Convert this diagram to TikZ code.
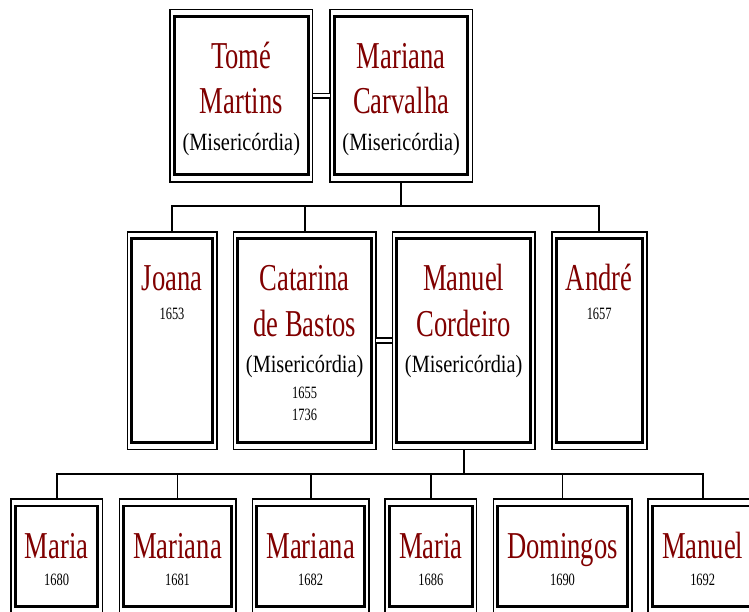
\documentclass[tikz,border=0pt]{standalone}
\usepackage{fontspec}
\setmainfont{Liberation Serif}
\newfontfamily\namefont[FakeStretch=0.70]{Liberation Serif}
\newfontfamily\notefont[FakeStretch=0.82]{Liberation Serif}
\newfontfamily\yearfont[FakeStretch=0.72]{Liberation Serif}
\definecolor{ink}{RGB}{0,0,0}
\definecolor{namered}{RGB}{128,0,0}
\tikzset{
  pers/.style={draw=ink,line width=1.6pt,inner sep=0pt,outer sep=0pt},
  inbox/.style={draw=ink,line width=2.8pt},
  nm/.style={anchor=base,inner sep=0pt,text=namered,font=\namefont\fontsize{38}{40}\selectfont},
  note/.style={anchor=base,inner sep=0pt,font=\notefont\fontsize{24.8}{26}\selectfont},
  yr/.style={anchor=base,inner sep=0pt,font=\yearfont\fontsize{17.3}{19}\selectfont},
  conn/.style={draw=ink,line width=1.8pt},
  wed/.style={draw=ink,double=white,double distance=3pt,line width=1.6pt},
}

\begin{document}
\begin{tikzpicture}[x=1pt,y=-1pt]
\path[use as bounding box,clip] (0,0) rectangle (749,611);
% parents
\node[pers,minimum width=142.7,minimum height=172.2] (tome) at (241.3,95.6) {};
\node[pers,minimum width=142.3,minimum height=172.2] (mariana) at (401.2,95.6) {};
% children
\node[pers,minimum width=89.4,minimum height=217.6] (joana) at (172,340.5) {};
\node[pers,minimum width=142.7,minimum height=217.6] (catarina) at (304.7,340.5) {};
\node[pers,minimum width=142.7,minimum height=217.6] (manuelc) at (463.7,340.5) {};
\node[pers,minimum width=95,minimum height=217.6] (andre) at (599.2,340.5) {};
% grandchildren
\node[pers,minimum width=91.3,minimum height=114.7] (maria1) at (56.7,556.3) {};
\node[pers,minimum width=116.4,minimum height=114.7] (mariana1) at (177.5,556.3) {};
\node[pers,minimum width=116.7,minimum height=114.7] (mariana2) at (310.7,556.3) {};
\node[pers,minimum width=91.7,minimum height=114.7] (maria2) at (430.8,556.3) {};
\node[pers,minimum width=138.4,minimum height=114.7] (domingos) at (562.5,556.3) {};
\node[pers,minimum width=110,minimum height=114.7] (manuel2) at (702.7,556.3) {};
% inner frames
\foreach \n in {tome,mariana,joana,catarina,manuelc,andre,maria1,mariana1,mariana2,maria2,domingos,manuel2}
  \draw[inbox] ([shift={(4.5,7)}]\n.north west) rectangle ([shift={(-4.5,-7)}]\n.south east);
% texts
\node[nm] (tomeA) at (241.3,68.3) {Tomé};
\node[nm] (tomeB) at (241.3,113.3) {Martins};
\node[note] (tomeC) at (241.3,150.7) {(Misericórdia)};
\node[nm] (marianaA) at (401.2,68.3) {Mariana};
\node[nm] (marianaB) at (401.2,113.3) {Carvalha};
\node[note] (marianaC) at (401.2,150.7) {(Misericórdia)};
\node[nm] (joanaA) at (172,290.7) {Joana};
\node[yr] (joanaB) at (172,319) {1653};
\node[nm] (catarinaA) at (304.7,290.7) {Catarina};
\node[nm] (catarinaB) at (304.7,336.7) {de Bastos};
\node[note] (catarinaC) at (304.7,372.7) {(Misericórdia)};
\node[yr] (catarinaD) at (304.7,398.3) {1655};
\node[yr] (catarinaE) at (304.7,420.7) {1736};
\node[nm] (manuelcA) at (463.7,290.7) {Manuel};
\node[nm] (manuelcB) at (463.7,336.7) {Cordeiro};
\node[note] (manuelcC) at (463.7,372.7) {(Misericórdia)};
\node[nm] (andreA) at (599.2,290.7) {André};
\node[yr] (andreB) at (599.2,319) {1657};
\node[nm] (maria1A) at (56.7,558.3) {Maria};
\node[yr] (maria1B) at (56.7,585.7) {1680};
\node[nm] (mariana1A) at (177.5,558.3) {Mariana};
\node[yr] (mariana1B) at (177.5,585.7) {1681};
\node[nm] (mariana2A) at (310.7,558.3) {Mariana};
\node[yr] (mariana2B) at (310.7,585.7) {1682};
\node[nm] (maria2A) at (430.8,558.3) {Maria};
\node[yr] (maria2B) at (430.8,585.7) {1686};
\node[nm] (domingosA) at (562.5,558.3) {Domingos};
\node[yr] (domingosB) at (562.5,585.7) {1690};
\node[nm] (manuel2A) at (702.7,558.3) {Manuel};
\node[yr] (manuel2B) at (702.7,585.7) {1692};
% marriages
\draw[wed] (tome) -- (mariana);
\draw[wed] (catarina) -- (manuelc);
% descent
\draw[conn] (mariana.south) -- ++(0,24.4) coordinate (bar1);
\draw[conn] (joana.north) |- (bar1) -| (andre.north);
\draw[conn] (catarina.north) -- (catarina.north |- bar1);
\draw[conn] (manuelc.south) -- ++(0,24.3) coordinate (bar2);
\draw[conn] (maria1.north) |- (bar2) -| (manuel2.north);
\foreach \n in {mariana1,mariana2,maria2,domingos}
  \draw[conn] (\n.north) -- (\n.north |- bar2);
\end{tikzpicture}
\end{document}
